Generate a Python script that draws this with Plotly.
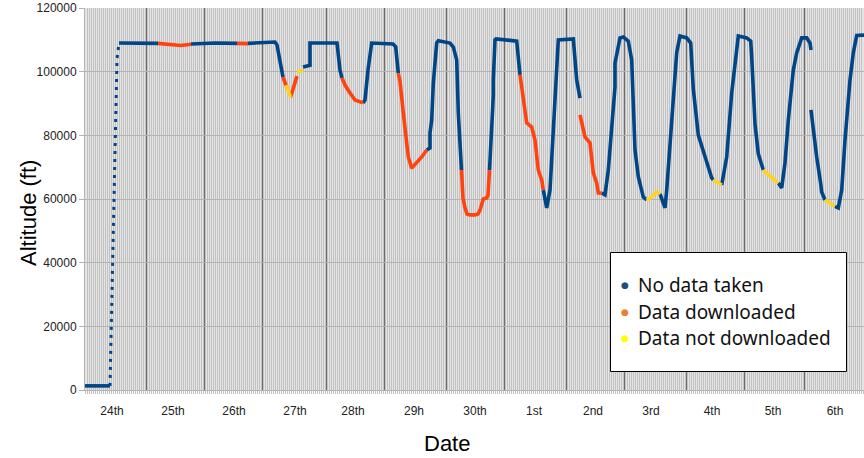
import plotly.graph_objects as go

# ---- data (x = sample position along the flight, y = altitude in ft) ----
day_labels = ["24th", "25th", "26th", "27th", "28th", "29h", "30th",
              "1st", "2nd", "3rd", "4th", "5th", "6th"]
day_label_pos = [27, 88, 149, 210, 268, 329, 390, 449, 508, 566, 627, 688, 750]
day_boundaries = [61, 119, 177, 241, 300, 361, 420, 481, 540, 601, 660, 720]

# sparse (dotted) launch ascent
ascent_x = [25, 25.5, 29, 32, 34]
ascent_y = [1300, 9400, 62700, 104000, 109000]

no_data_x = [0, 25, None,
             34, 50, 73, None,
             106, 130, 152, None,
             163, 180, 185, 190, 192, 195, 198, None,
             218, 223, 225, 225, 252, 255, 257, None,
             278, 280, 283, 286, 286.7, 308, 310.7, 313.3, None,
             341.7, 345, 345, 346.7, 348.3, 350, 351.7, 353.3, 365, 368.3,
             371.7, 373.3, 375, 376.5, None,
             404.5, 405, 407.7, 408.3, 408.3, 410, 411, 431.7, 433.3, 435, None,
             458.3, 460, 461.7, 465, 466.7, 468.3, 470, 473.3, 488.3, 491.7, 495, None,
             516.7, 520, 523.3, 526.7, 530, 530, 531.7, 535, 538.3, 543.3, 546.7,
             548.3, 550, 553.3, 558.3, 561.7, None,
             575, 578.3, 580, 581.7, 585, 588.3, 591.7, 595, 601.7, 605.7, 608.3,
             613.3, 621.7, 626.7, 628.3, None,
             636.7, 641.7, 646.7, 651.7, 653.3, 661.7, 665.7, 666.7, 668.3, 670,
             673.3, 678.3, None,
             693.3, 696.7, 700, 703.3, 708.3, 711.7, 716.7, 721.7, 725, 726, None,
             726, 728.3, 731.7, 735.7, 736.7, 740, None,
             750, 753.3, 756.7, 760, 765, 768.3, 771.7, 778.3, 780]
no_data_y = [1300, 1300, None,
             109000, 109000, 108900, None,
             108700, 109000, 108900, None,
             108900, 109000, 109300, 109300, 108400, 103700, 98300, None,
             101500, 101800, 102000, 109000, 109000, 100500, 98000, None,
             90200, 91100, 100500, 108900, 109000, 108700, 107800, 99500, None,
             75400, 76000, 80700, 84800, 96400, 103700, 109000, 109700, 109000, 107700,
             103700, 87000, 75400, 69100, None,
             69100, 73200, 88600, 92700, 97400, 110000, 110300, 109600, 104700, 99000, None,
             62800, 59700, 57200, 62800, 72200, 84800, 95200, 110000, 110300, 97400, 91700, None,
             61900, 61300, 69100, 82600, 95200, 102700, 105200, 110600, 110900, 109600, 103700,
             92000, 75400, 67000, 60600, 59700, None,
             61600, 58700, 57200, 62800, 76600, 92000, 106000, 111200, 110600, 109000, 94600,
             80100, 71300, 66600, 66000, None,
             64400, 73200, 93300, 106800, 111200, 110600, 109600, 104700, 92000, 83600,
             74200, 69100, None,
             65000, 63500, 71300, 84800, 100500, 105900, 110600, 110600, 109000, 106800, None,
             88000, 81700, 73200, 64900, 62200, 59700, None,
             57700, 57200, 62800, 78500, 97400, 105900, 111400, 111500, 111500]

downloaded_x = [73, 80, 88, 96, 106, None,
                152, 158, 163, None,
                198, 202, None,
                205.5, 212, None,
                257, 260, 265, 270, 278, None,
                313.3, 315, 318.3, 321, 323.3, 326.7, 331.7, 336.7, 341.7, None,
                376.5, 378, 380, 382, 385, 390, 393, 395, 398.3, 401.7, 403, 404, 404.5, None,
                435, 436.7, 440, 441.7, 446.7, 450, 453.3, 456.7, 458.3, None,
                495, 500, 505, 508.3, 511.7, 513.3, 516.7]
downloaded_y = [108900, 108700, 108300, 108200, 108600, None,
                108900, 108700, 108800, None,
                98300, 94900, None,
                92000, 98600, None,
                98000, 95800, 93300, 91100, 90200, None,
                99500, 97000, 87000, 79500, 73200, 69700, 71300, 73200, 75400, None,
                69100, 60300, 57200, 55300, 55000, 55000, 55300, 56500, 60000, 60300, 61300, 66000, 69100, None,
                99000, 95200, 86400, 83900, 82600, 78500, 69100, 66000, 62800, None,
                86400, 79500, 77600, 68200, 65000, 61900, 61900]

not_downloaded_x = [201, 205, 205.5, None,
                    212, 218, None,
                    561.7, 566.7, 571.7, 575, None,
                    628.3, 633.3, 636.7, None,
                    678.3, 680, 693.3, None,
                    740, 745, 750]
not_downloaded_y = [95800, 92400, 92000, None,
                    99900, 100500, None,
                    59700, 60600, 62200, 61600, None,
                    66000, 65000, 64400, None,
                    69100, 68500, 65000, None,
                    59700, 58700, 57700]

series_names = ["No data taken", "Data downloaded", "Data not downloaded"]
line_colors = ["#004586", "#ff420e", "#ffd320"]
legend_colors = ["#1f4e79", "#ed7d31", "#ffff00"]

# ---- figure ----
PL, PR, PT, PB = 85, 864, 8, 390
W, H = 864, 458

def px_x(p):
    return (p - PL) / (PR - PL)

def px_y(p):
    return (PB - p) / (PB - PT)

fig = go.Figure()
LW = 3.6
fig.add_trace(go.Scatter(x=ascent_x, y=ascent_y, mode="lines",
                         line=dict(color=line_colors[0], width=3, dash="3px,5px"),
                         showlegend=False, hoverinfo="skip"))
fig.add_trace(go.Scatter(x=no_data_x, y=no_data_y, mode="lines", name=series_names[0],
                         line=dict(color=line_colors[0], width=LW),
                         showlegend=False, connectgaps=False))
fig.add_trace(go.Scatter(x=downloaded_x, y=downloaded_y, mode="lines", name=series_names[1],
                         line=dict(color=line_colors[1], width=LW),
                         showlegend=False, connectgaps=False))
fig.add_trace(go.Scatter(x=not_downloaded_x, y=not_downloaded_y, mode="lines", name=series_names[2],
                         line=dict(color=line_colors[2], width=LW),
                         showlegend=False, connectgaps=False))

shapes = []
for b in day_boundaries:
    shapes.append(dict(type="line", xref="x", yref="paper", x0=b, x1=b, y0=0, y1=1,
                       line=dict(color="#2a2a2a", width=1.3), layer="between"))
shapes.append(dict(type="rect", xref="paper", yref="paper",
                   x0=px_x(610.5), x1=px_x(846.5), y0=px_y(371.5), y1=px_y(252.5),
                   line=dict(color="#000000", width=1), fillcolor="white", layer="above"))

annotations = [
    dict(text="Altitude (ft)", xref="paper", yref="paper", x=px_x(28), y=px_y(213),
         xanchor="center", yanchor="middle",
         showarrow=False, textangle=-90, font=dict(family="Liberation Sans", size=22, color="#000")),
    dict(text="Date", xref="paper", yref="paper", x=px_x(447), y=px_y(443),
         xanchor="center", yanchor="middle",
         showarrow=False, font=dict(family="Liberation Sans", size=22, color="#000")),
]
legend_rows = [285, 311.5, 338]
for name, col, ry in zip(series_names, legend_colors, legend_rows):
    annotations.append(dict(text="●", xref="paper", yref="paper", x=px_x(625), y=px_y(ry),
                            xanchor="center", yanchor="middle", showarrow=False,
                            font=dict(family="DejaVu Sans", size=9, color=col)))
    annotations.append(dict(text=name, xref="paper", yref="paper", x=px_x(636), y=px_y(ry),
                            xanchor="left", yanchor="middle", showarrow=False,
                            font=dict(family="Noto Sans", size=19, color="#111111")))

fig.update_layout(
    width=W, height=H,
    margin=dict(l=PL, r=W - PR, t=PT, b=H - PB, autoexpand=False),
    paper_bgcolor="white",
    plot_bgcolor="#e4e4e4",
    font=dict(family="Liberation Sans", size=12, color="#222222"),
    shapes=shapes,
    showlegend=False,
    annotations=annotations,
)
fig.update_xaxes(
    range=[0, PR - PL], tickmode="array", tickvals=day_label_pos, ticktext=day_labels,
    ticks="outside", ticklen=10, tickcolor="rgba(0,0,0,0)",
    showgrid=False, zeroline=False, showline=True, linecolor="#b3b3b3", linewidth=1,
    minor=dict(tickmode="linear", tick0=0, dtick=2, showgrid=True, gridcolor="#c2c2c2",
               gridwidth=1, ticks="outside", ticklen=3, tickcolor="#c2c2c2"),
    fixedrange=True, automargin=False,
)
fig.update_yaxes(
    range=[0, 120000], dtick=20000, tick0=0, tickformat="d",
    showgrid=True, gridcolor="#b3b3b3", gridwidth=1,
    ticks="outside", ticklen=5, tickcolor="#b3b3b3", zeroline=False,
    showline=True, linecolor="#b3b3b3", linewidth=1, fixedrange=True, automargin=False,
)

fig.write_html("out.html", config={"displayModeBar": False},
               post_script="document.body.style.margin='0';document.body.style.overflow='hidden';")
